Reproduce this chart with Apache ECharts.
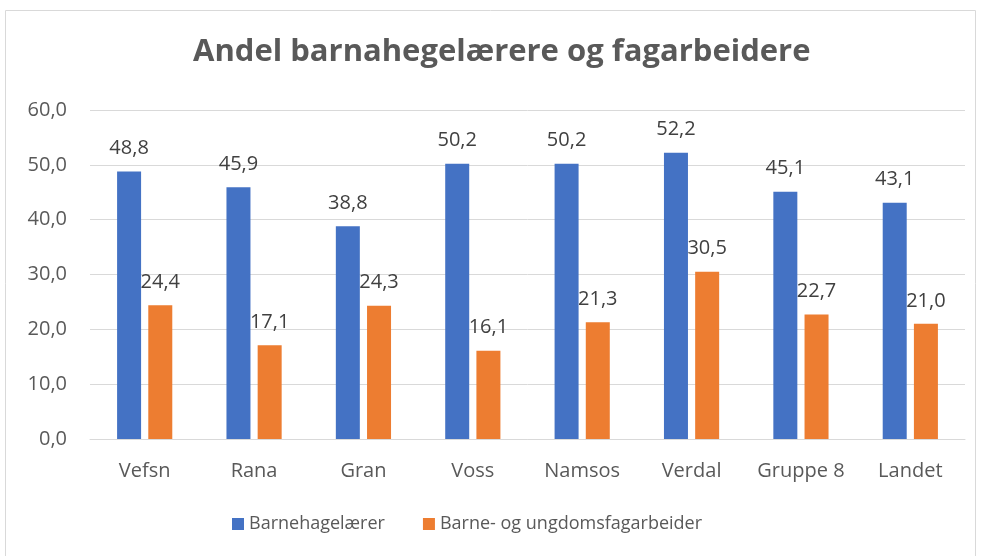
<!DOCTYPE html>
<html lang="no">
<head>
    <meta charset="UTF-8">
    <title>Andel barnahegelærere og fagarbeidere</title>
    <script src="https://cdn.jsdelivr.net/npm/echarts@6/dist/echarts.min.js"></script>
    <style>
        html, body { margin: 0; padding: 0; background: #fff; }
        #chart { width: 981px; height: 556px; }
    </style>
</head>
<body>
    <div id="chart"></div>
    <script>
        const categories = ["Vefsn", "Rana", "Gran", "Voss", "Namsos", "Verdal", "Gruppe 8", "Landet"]
        const barnehagelaerer = [48.8, 45.9, 38.8, 50.2, 50.2, 52.2, 45.1, 43.1]
        const fagarbeider = [24.4, 17.1, 24.3, 16.1, 21.3, 30.5, 22.7, 21.0]

        const fontFamily = "'Open Sans', 'Liberation Sans', sans-serif"
        const fmt = v => v.toFixed(1).replace(".", ",")

        const chart = echarts.init(document.getElementById("chart"))

        const labelStyle = {
            show: true,
            position: "top",
            distance: 13,
            color: "#404040",
            fontSize: 20,
            fontFamily,
            formatter: p => fmt(p.value)
        }

        chart.setOption({
            animation: false,
            graphic: [{
                type: "rect",
                shape: { x: 5.5, y: 10.5, width: 970, height: 560 },
                style: { fill: "none", stroke: "#d9d9d9", lineWidth: 1 }
            }],
            title: {
                text: "Andel barnahegelærere og fagarbeidere",
                left: 188,
                top: 32,
                textStyle: { color: "#595959", fontSize: 31, fontWeight: "bold", fontFamily }
            },
            legend: {
                bottom: 18,
                left: 227,
                itemWidth: 12,
                itemHeight: 12,
                itemGap: 38,
                icon: "rect",
                textStyle: { color: "#595959", fontSize: 18, fontFamily }
            },
            grid: { left: 90, right: 16, top: 110, bottom: 117 },
            xAxis: {
                type: "category",
                data: categories,
                axisTick: { show: false },
                axisLine: { lineStyle: { color: "#d9d9d9", width: 1 } },
                axisLabel: { color: "#595959", fontSize: 20, fontFamily, margin: 22, interval: 0 }
            },
            yAxis: {
                type: "value",
                min: 0,
                max: 60,
                interval: 10,
                axisLabel: { color: "#595959", fontSize: 20, fontFamily, margin: 23, formatter: v => fmt(v) },
                splitLine: { lineStyle: { color: "#d9d9d9", width: 1 } }
            },
            series: [
                {
                    name: "Barnehagelærer",
                    type: "bar",
                    data: barnehagelaerer,
                    barWidth: 24,
                    barGap: "30%",
                    itemStyle: { color: "#4472c4" },
                    label: labelStyle
                },
                {
                    name: "Barne- og ungdomsfagarbeider",
                    type: "bar",
                    data: fagarbeider,
                    barWidth: 24,
                    itemStyle: { color: "#ed7d31" },
                    label: labelStyle
                }
            ]
        })
    </script>
</body>
</html>
